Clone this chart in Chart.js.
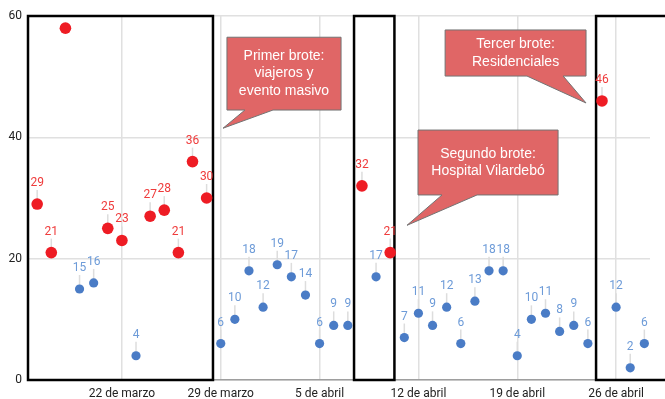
<!DOCTYPE html>
<html>
<head>
<meta charset="utf-8">
<script src="https://cdn.jsdelivr.net/npm/chart.js@4/dist/chart.umd.min.js"></script>
<style>
  html, body { margin: 0; padding: 0; background: #ffffff; }
  #wrap { width: 665px; height: 399px; }
</style>
</head>
<body>
<div id="wrap"><canvas id="grafico" width="665" height="399"></canvas></div>
<script>
// Casos diarios por fecha
const fechas = [
  '2020-03-16','2020-03-17','2020-03-18','2020-03-19','2020-03-20','2020-03-21','2020-03-22',
  '2020-03-23','2020-03-24','2020-03-25','2020-03-26','2020-03-27','2020-03-28','2020-03-29',
  '2020-03-30','2020-03-31','2020-04-01','2020-04-02','2020-04-03','2020-04-04','2020-04-05',
  '2020-04-06','2020-04-07','2020-04-08','2020-04-09','2020-04-10','2020-04-11','2020-04-12',
  '2020-04-13','2020-04-14','2020-04-15','2020-04-16','2020-04-17','2020-04-18','2020-04-19',
  '2020-04-20','2020-04-21','2020-04-22','2020-04-23','2020-04-24','2020-04-25','2020-04-26',
  '2020-04-27','2020-04-28'
];
const casos = [
  29, 21, 58, 15, 16, 25, 23,
  4, 27, 28, 21, 36, 30, 6,
  10, 18, 12, 19, 17, 14, 6,
  9, 9, 32, 17, 21, 7, 11,
  9, 12, 6, 13, 18, 18, 4,
  10, 11, 8, 9, 6, 46, 12,
  2, 6
];
// Días ligados a un brote
const fechasBrote = [
  '2020-03-16','2020-03-17','2020-03-18','2020-03-21','2020-03-22','2020-03-24',
  '2020-03-25','2020-03-26','2020-03-27','2020-03-28','2020-04-08','2020-04-10','2020-04-25'
];
// Marcas del eje horizontal
const fechasTicks = ['2020-03-22','2020-03-29','2020-04-05','2020-04-12','2020-04-19','2020-04-26'];
const etiquetasX = ['22 de marzo','29 de marzo','5 de abril','12 de abril','19 de abril','26 de abril'];
const ticksY = [0, 20, 40, 60];
const textosBrote = [
  ['Primer brote:', 'viajeros y', 'evento masivo'],
  ['Segundo brote:', 'Hospital Vilardebó'],
  ['Tercer brote:', 'Residenciales']
];

const ORIGEN = Date.parse('2020-03-22');
const dia = f => (Date.parse(f) - ORIGEN) / 86400000;

const puntosBrote = [], puntosOtros = [];
fechas.forEach((f, i) => {
  const p = { x: dia(f), y: casos[i] };
  (fechasBrote.includes(f) ? puntosBrote : puntosOtros).push(p);
});

const ROJO = '#ee1c24', AZUL = '#4a7cc6';
const ROJO_TXT = '#ef3b3b', AZUL_TXT = '#6d9bd8';

// Etiquetas de valor con guía vertical
const etiquetas = {
  id: 'etiquetas',
  beforeDatasetsDraw(chart) {
    const { ctx, chartArea } = chart;
    ctx.save();
    ctx.strokeStyle = '#dddddd';
    ctx.lineWidth = 1.5;
    chart.data.datasets.forEach((ds, di) => {
      chart.getDatasetMeta(di).data.forEach(el => {
        const ly = el.y - 21;
        if (ly - 7 < chartArea.top) return;
        ctx.beginPath();
        ctx.moveTo(el.x, el.y);
        ctx.lineTo(el.x, ly + 7);
        ctx.stroke();
      });
    });
    ctx.restore();
  },
  afterDatasetsDraw(chart) {
    const { ctx, chartArea } = chart;
    ctx.save();
    ctx.font = '12px Roboto, Arial, sans-serif';
    ctx.textAlign = 'center';
    ctx.textBaseline = 'middle';
    chart.data.datasets.forEach((ds, di) => {
      ctx.fillStyle = ds.colorEtiqueta;
      chart.getDatasetMeta(di).data.forEach((el, i) => {
        const ly = el.y - 21;
        if (ly - 7 < chartArea.top) return;
        ctx.fillText(String(ds.data[i].y), el.x, ly);
      });
    });
    ctx.restore();
  }
};

// Recuadros de los periodos de brote
const recuadros = {
  id: 'recuadros',
  beforeDatasetsDraw(chart, args, opts) {
    const { ctx, scales: { x, y } } = chart;
    ctx.save();
    ctx.strokeStyle = '#000000';
    ctx.lineWidth = 2.5;
    opts.periodos.forEach(([a, b]) => {
      const x1 = x.getPixelForValue(a), x2 = x.getPixelForValue(b);
      const y1 = y.getPixelForValue(60), y2 = y.getPixelForValue(0);
      ctx.strokeRect(x1, y1, x2 - x1, y2 - y1);
    });
    ctx.restore();
  }
};

// Globos de texto
const globos = {
  id: 'globos',
  afterDatasetsDraw(chart, args, opts) {
    const { ctx, scales: { x, y } } = chart;
    ctx.save();
    opts.items.forEach((g, k) => {
      const L = x.getPixelForValue(g.x0), R = x.getPixelForValue(g.x1);
      const T = y.getPixelForValue(g.y0), B = y.getPixelForValue(g.y1);
      const b1 = x.getPixelForValue(g.base[0]), b2 = x.getPixelForValue(g.base[1]);
      const tx = x.getPixelForValue(g.punta[0]), ty = y.getPixelForValue(g.punta[1]);
      ctx.beginPath();
      ctx.moveTo(L, T);
      ctx.lineTo(R, T);
      ctx.lineTo(R, B);
      ctx.lineTo(b2, B);
      ctx.lineTo(tx, ty);
      ctx.lineTo(b1, B);
      ctx.lineTo(L, B);
      ctx.closePath();
      ctx.fillStyle = '#e06666';
      ctx.fill();
      ctx.strokeStyle = '#737373';
      ctx.lineWidth = 1;
      ctx.stroke();
      const lineas = textosBrote[k];
      const lh = 17.5;
      const cx = (L + R) / 2, cy = (T + B) / 2;
      ctx.fillStyle = '#ffffff';
      ctx.font = '14px "Liberation Sans", Arial, sans-serif';
      ctx.textAlign = 'center';
      ctx.textBaseline = 'middle';
      lineas.forEach((t, j) => {
        ctx.fillText(t, cx, cy + (j - (lineas.length - 1) / 2) * lh);
      });
    });
    ctx.restore();
  }
};

new Chart(document.getElementById('grafico'), {
  type: 'scatter',
  data: {
    datasets: [
      { label: 'Brotes', data: puntosBrote, backgroundColor: ROJO, borderColor: ROJO,
        pointRadius: 5.8, borderWidth: 0, colorEtiqueta: ROJO_TXT },
      { label: 'Otros', data: puntosOtros, backgroundColor: AZUL, borderColor: AZUL,
        pointRadius: 4.6, borderWidth: 0, colorEtiqueta: AZUL_TXT }
    ]
  },
  options: {
    responsive: false,
    animation: false,
    events: [],
    layout: { padding: { top: 16, right: 15, left: 0, bottom: 0 } },
    plugins: {
      legend: { display: false },
      tooltip: { enabled: false },
      recuadros: { periodos: [[-6.65, 6.45], [16.44, 19.3], [33.58, 40]] },
      globos: {
        items: [
          { x0: 7.44, x1: 15.52, y0: 56.5, y1: 44.5, base: [8.71, 10.7], punta: [7.16, 41.5] },
          { x0: 20.97, x1: 30.89, y0: 41.2, y1: 30.5, base: [22.67, 25.15], punta: [20.19, 25.5] },
          { x0: 22.89, x1: 32.87, y0: 57.7, y1: 50.1, base: [28.69, 31.25], punta: [32.87, 45.66] }
        ]
      }
    },
    scales: {
      x: {
        type: 'linear',
        min: -6.65,
        max: 37.4,
        afterFit(s) { s.height = 19; },
        afterBuildTicks(s) { s.ticks = fechasTicks.map(f => ({ value: dia(f) })); },
        ticks: {
          padding: 7,
          color: '#222222',
          font: { family: 'Roboto, Arial, sans-serif', size: 12 },
          maxRotation: 0,
          autoSkip: false,
          callback: (v, i) => etiquetasX[i]
        },
        grid: { color: '#e0e0e0', lineWidth: 1.5, drawTicks: false },
        border: { display: true, color: '#9e9e9e', width: 1.5 }
      },
      y: {
        min: 0,
        max: 60,
        afterFit(s) { s.width = 28; },
        afterBuildTicks(s) { s.ticks = ticksY.map(v => ({ value: v })); },
        ticks: {
          padding: 6,
          color: '#222222',
          font: { family: 'Roboto, Arial, sans-serif', size: 12 }
        },
        grid: { color: '#e0e0e0', lineWidth: 1.5, drawTicks: false },
        border: { display: false }
      }
    }
  },
  plugins: [recuadros, etiquetas, globos]
});
</script>
</body>
</html>
